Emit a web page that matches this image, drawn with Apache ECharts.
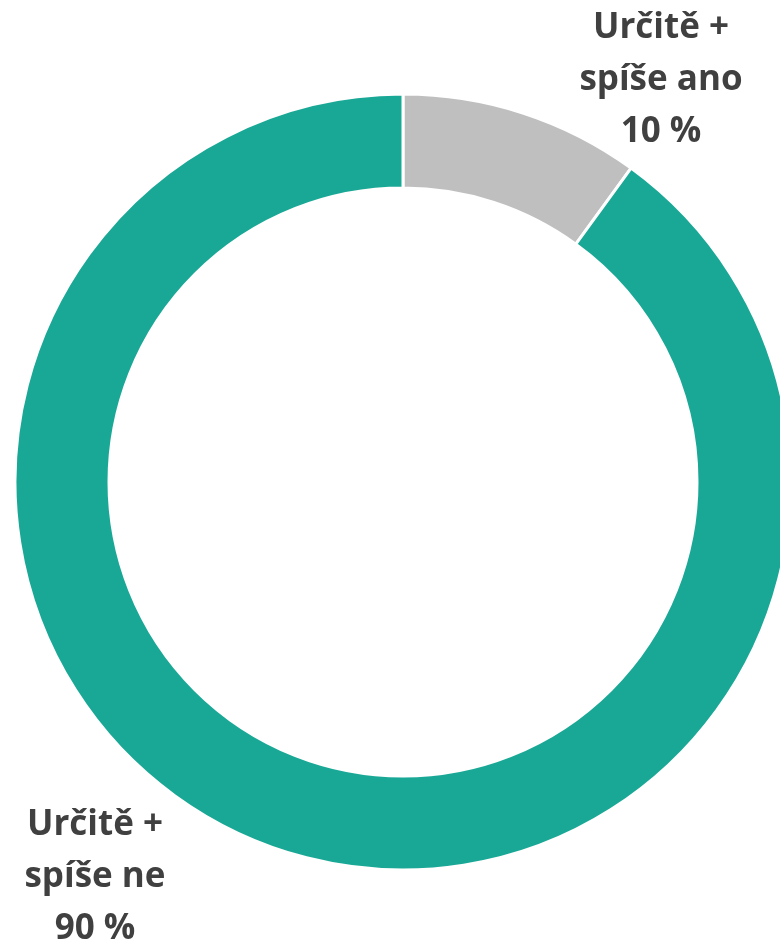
<!DOCTYPE html>
<html>
<head>
<meta charset="utf-8">
<script src="https://cdn.jsdelivr.net/npm/echarts@6/dist/echarts.min.js"></script>
<style>
  html, body { margin: 0; padding: 0; background: #fff; }
  #chart { width: 780px; height: 945px; }
</style>
</head>
<body>
<div id="chart"></div>
<script>
// data
var categories = ["Určitě +\nspíše ano", "Určitě +\nspíše ne"];
var values = [10, 90];
var colors = ["#bfbfbf", "#1aa896"];
// label anchor points (centre of each label block)
var labelPos = [[661, 80], [95, 877]];

var chart = echarts.init(document.getElementById("chart"));
chart.setOption({
  animation: false,
  series: [
    {
      type: "pie",
      center: [403, 482],
      radius: [294, 388],
      startAngle: 90,
      clockwise: true,
      itemStyle: {
        borderColor: "#fff",
        borderWidth: 3
      },
      label: {
        show: true,
        position: "outside",
        color: "#404040",
        fontFamily: "Open Sans",
        fontWeight: "bold",
        fontSize: 35,
        lineHeight: 52,
        align: "center",
        formatter: function(p) {
          return p.name + "\n" + p.value + " %";
        }
      },
      labelLine: { show: false },
      labelLayout: function(params) {
        var pos = labelPos[params.dataIndex];
        return {
          x: pos[0],
          y: pos[1],
          align: "center",
          verticalAlign: "middle"
        };
      },
      data: categories.map(function(name, i) {
        return { name: name, value: values[i], itemStyle: { color: colors[i] } };
      })
    }
  ]
});
</script>
</body>
</html>
